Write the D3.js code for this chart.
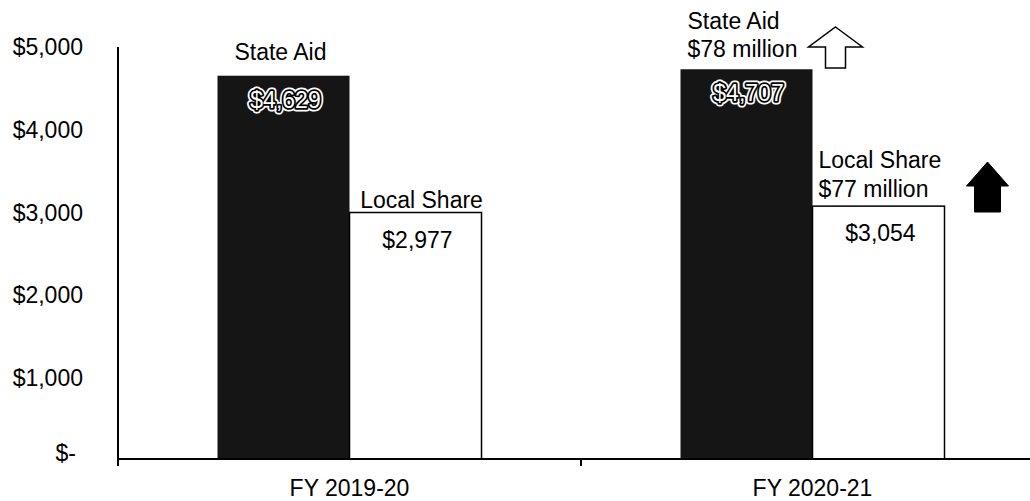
<!DOCTYPE html>
<html><head><meta charset="utf-8">
<script src="https://cdn.jsdelivr.net/npm/d3@7"></script>
<style>
html,body{margin:0;padding:0;background:#fff;}
text{font-family:"Liberation Sans",Arial,sans-serif;}
</style></head>
<body><svg id="c" width="1030" height="501"></svg>
<script>
const categories = ["FY 2019-20", "FY 2020-21"];
const series = ["State Aid", "Local Share"];
const stateAid = [4629, 4707];
const localShare = [2977, 3054];
const yTicks = [0, 1000, 2000, 3000, 4000, 5000];
const changeLabels = ["$78 million", "$77 million"];

const svg = d3.select("#c");
const fs = 23;
const x = d3.scaleBand().domain(categories).range([118, 1044]);
const y = d3.scaleLinear().domain([0, 5000]).range([459, 45]);
const barW = 132;
const xs = d3.scaleBand().domain(series).range([-barW, barW]);

// y axis line
svg.append("line").attr("x1",118).attr("x2",118).attr("y1",47).attr("y2",463)
  .attr("stroke","#000").attr("stroke-width",2);
// y tick labels
const fmt = v => v === 0 ? "$-" : "$" + d3.format(",")(v);
svg.selectAll(".yt").data(yTicks).enter().append("text")
  .attr("x", d => d === 0 ? 76 : 83)
  .attr("y", d => y(d) + (d === 0 ? -6 : 2))
  .attr("dy","0.35em").attr("text-anchor","end").attr("font-size",fs)
  .text(fmt);

// bars
const data = categories.map((c,i)=>({c, vals:[{s:"State Aid",v:stateAid[i]},{s:"Local Share",v:localShare[i]}]}));
const g = svg.selectAll(".grp").data(data).enter().append("g")
  .attr("transform", d => `translate(${x(d.c)+x.bandwidth()/2},0)`);
g.selectAll("rect").data(d=>d.vals).enter().append("rect")
  .attr("x", d => xs(d.s)).attr("width", xs.bandwidth())
  .attr("y", d => y(d.v)).attr("height", d => y(0)-y(d.v))
  .attr("fill", d => d.s === "State Aid" ? "#151515" : "#fff")
  .attr("stroke", "#000").attr("stroke-width", d => d.s === "State Aid" ? 0 : 1.5);

// value labels
g.each(function(d){
  const gg = d3.select(this);
  const sa = d.vals[0], ls = d.vals[1];
  const cx1 = xs(sa.s) + xs.bandwidth()/2 + 2;
  const txt = "$" + d3.format(",")(sa.v);
  [["#fff",7],["#000",3.5]].forEach(([c,w])=>{
    gg.append("text").attr("x",cx1).attr("y",y(sa.v)+32).attr("text-anchor","middle")
      .attr("font-size",fs).attr("fill",c).attr("stroke",c).attr("stroke-width",w)
      .attr("stroke-linejoin","round").text(txt);
  });
  gg.append("text").attr("x",cx1).attr("y",y(sa.v)+32).attr("text-anchor","middle")
    .attr("font-size",fs).attr("fill","#fff").text(txt);
  const cx2 = xs(ls.s) + xs.bandwidth()/2 + 2;
  gg.append("text").attr("x",cx2).attr("y",y(ls.v)+35).attr("text-anchor","middle")
    .attr("font-size",fs).attr("fill","#000").text("$" + d3.format(",")(ls.v));
});

// x axis
svg.append("line").attr("x1",118).attr("x2",1030).attr("y1",y(0)).attr("y2",y(0))
  .attr("stroke","#000").attr("stroke-width",2);
[x(categories[0]), x(categories[1])].forEach(t=>{
  svg.append("line").attr("x1",t).attr("x2",t).attr("y1",y(0)).attr("y2",y(0)+7)
    .attr("stroke","#000").attr("stroke-width",2);
});
svg.selectAll(".xl").data(categories).enter().append("text")
  .attr("x", d => x(d)+x.bandwidth()/2).attr("y",496).attr("text-anchor","middle")
  .attr("font-size",fs).text(d=>d);

// annotations group 1
const c1 = x(categories[0]) + x.bandwidth()/2;
svg.append("text").attr("x", c1 - 69).attr("y", y(stateAid[0]) - 16).attr("text-anchor","middle")
  .attr("font-size",fs).text(series[0]);
svg.append("text").attr("x", c1 + 72).attr("y", y(localShare[0]) - 5).attr("text-anchor","middle")
  .attr("font-size",fs).text(series[1]);

// annotations group 2
const c2 = x(categories[1]) + x.bandwidth()/2;
const left2 = c2 - barW + 7;
svg.append("text").attr("x", left2).attr("y", y(stateAid[1]) - 40).attr("font-size",fs).text(series[0]);
svg.append("text").attr("x", left2).attr("y", y(stateAid[1]) - 12).attr("font-size",fs).text(changeLabels[0]);
svg.append("text").attr("x", c2 + 6).attr("y", y(localShare[1]) - 38).attr("font-size",fs).text(series[1]);
svg.append("text").attr("x", c2 + 6).attr("y", y(localShare[1]) - 9).attr("font-size",fs).text(changeLabels[1]);

function arrow(cx, top, headBot, base, headW, shaftW){
  return `M${cx},${top} L${cx+headW/2},${headBot} L${cx+shaftW/2},${headBot} L${cx+shaftW/2},${base} L${cx-shaftW/2},${base} L${cx-shaftW/2},${headBot} L${cx-headW/2},${headBot} Z`;
}
svg.append("path").attr("d", arrow(c2+23, 27, 47, 68, 54, 20))
  .attr("fill","#fff").attr("stroke","#000").attr("stroke-width",1.5).attr("stroke-linejoin","miter");
svg.append("path").attr("d", arrow(c2+175, 162, 186, 212, 42, 26))
  .attr("fill","#000").attr("stroke","#000").attr("stroke-width",1);
</script></body></html>
